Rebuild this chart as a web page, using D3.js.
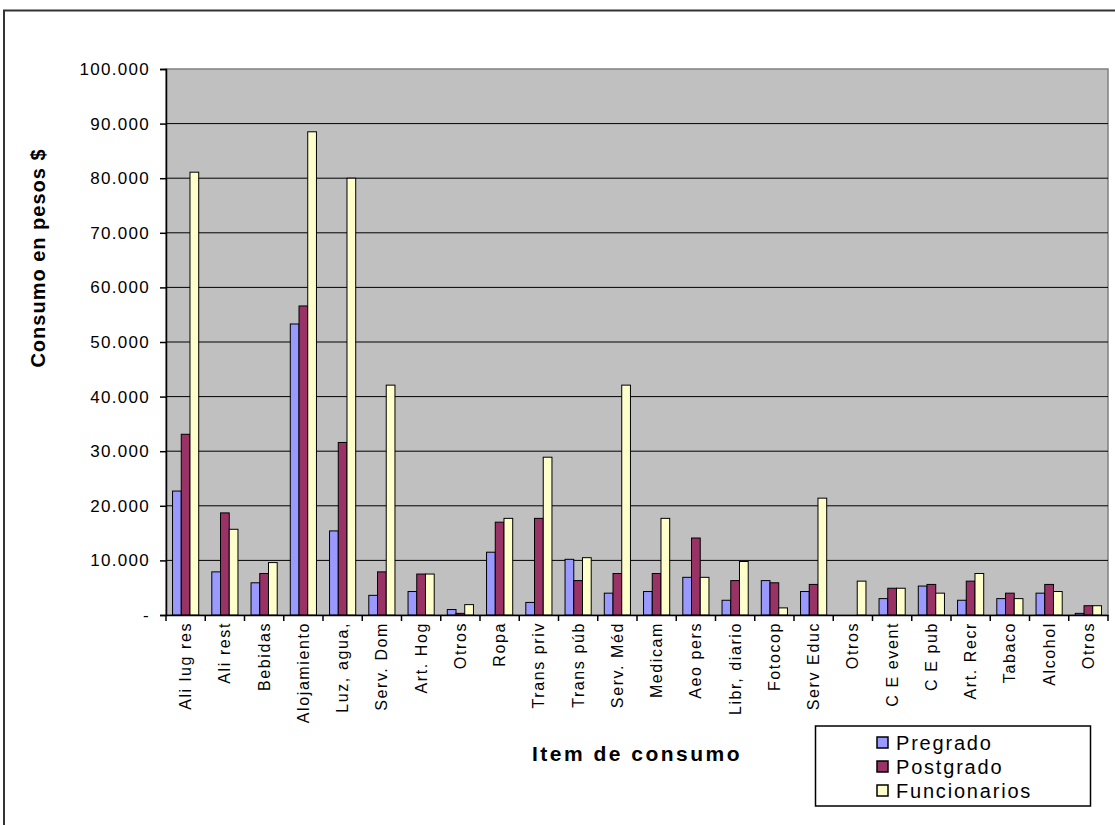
<!DOCTYPE html>
<html>
<head>
<meta charset="utf-8">
<script src="https://cdn.jsdelivr.net/npm/d3@7"></script>
<style>
  body { margin: 0; background: #fff; }
  svg { display: block; font-family: Arial, "Liberation Sans", sans-serif; }
</style>
</head>
<body>
<svg id="chart" width="1115" height="825"></svg>
<script>
const categories = ["Ali lug res", "Ali rest", "Bebidas", "Alojamiento", "Luz, agua,", "Serv. Dom", "Art. Hog", "Otros",
  "Ropa", "Trans priv", "Trans púb", "Serv. Méd", "Medicam", "Aeo pers", "Libr, diario", "Fotocop", "Serv Educ",
  "Otros", "C E event", "C E pub", "Art. Recr", "Tabaco", "Alcohol", "Otros"];
const seriesNames = ["Pregrado", "Postgrado", "Funcionarios"];
const pregrado     = [22700, 7900, 5900, 53300, 15400, 3600, 4300, 1000, 11500, 2300, 10200, 4000, 4300, 6900, 2700, 6300, 4300, 0, 3000, 5300, 2700, 3000, 4000, 300];
const postgrado    = [33100, 18700, 7600, 56600, 31600, 7900, 7500, 300, 17000, 17700, 6300, 7600, 7600, 14100, 6300, 5900, 5600, 0, 4900, 5600, 6200, 4000, 5600, 1700];
const funcionarios = [81100, 15700, 9600, 88500, 80000, 42100, 7500, 1900, 17700, 28900, 10500, 42100, 17700, 6900, 9800, 1300, 21400, 6200, 4900, 4000, 7600, 3000, 4300, 1700];
const yTicks = [0, 10000, 20000, 30000, 40000, 50000, 60000, 70000, 80000, 90000, 100000];
const colors = ["#9999ff", "#993366", "#ffffcc"];

const seriesValues = [pregrado, postgrado, funcionarios];
const svg = d3.select("#chart");

// outer frame
svg.append("rect").attr("x", 4).attr("y", 10.5).attr("width", 1200).attr("height", 1000)
  .attr("fill", "none").attr("stroke", "#333").attr("stroke-width", 2);

const pLeft = 166, pRight = 1108, pTop = 69, pBottom = 615;
const x = d3.scaleBand().domain(d3.range(categories.length)).range([pLeft, pRight]).padding(0);
const y = d3.scaleLinear().domain([0, 100000]).range([pBottom, pTop]);
const w = x.bandwidth() / 4.5;
const x1 = d3.scaleBand().domain(d3.range(3)).range([0, 3 * w]);
const off = (x.bandwidth() - 3 * w) / 2;

// plot background
svg.append("rect").attr("x", pLeft).attr("y", pTop).attr("width", pRight - pLeft).attr("height", pBottom - pTop)
  .attr("fill", "#c0c0c0").attr("stroke", "#808080").attr("stroke-width", 1.5);

// gridlines
svg.append("g").selectAll("line").data(yTicks.filter(d => d > 0 && d < 100000)).join("line")
  .attr("x1", pLeft).attr("x2", pRight).attr("y1", d => y(d)).attr("y2", d => y(d))
  .attr("stroke", "#000").attr("stroke-width", 1);

// bars
const groups = svg.append("g").selectAll("g").data(categories.map((c, i) => i)).join("g")
  .attr("transform", i => `translate(${x(i) + off},0)`);
groups.selectAll("rect").data(i => seriesValues.map((s, k) => ({k, v: s[i]}))).join("rect")
  .attr("x", d => x1(d.k)).attr("width", x1.bandwidth())
  .attr("y", d => y(d.v)).attr("height", d => y(0) - y(d.v))
  .attr("fill", d => colors[d.k]).attr("stroke", "#000").attr("stroke-width", 1)
  .attr("display", d => d.v > 0 ? null : "none");

// y axis
const loc = d3.formatLocale({decimal: ",", thousands: ".", grouping: [3], currency: ["$", ""]});
const fmt = loc.format(",.0f");
const yAxis = svg.append("g").attr("transform", `translate(${pLeft},0)`)
  .call(d3.axisLeft(y).tickValues(yTicks).tickSize(6).tickPadding(10)
    .tickFormat(d => d === 0 ? "-" : fmt(d)));
yAxis.select(".domain").attr("stroke", "#000").attr("stroke-width", 1.5);
yAxis.selectAll(".tick line").attr("stroke", "#000").attr("stroke-width", 1.5);
yAxis.selectAll(".tick text").attr("font-size", 17).attr("fill", "#000")
  .style("letter-spacing", "1.3px").attr("font-family", "Arial, 'Liberation Sans', sans-serif");

// x axis
const xAxis = svg.append("g").attr("transform", `translate(0,${pBottom})`)
  .call(d3.axisBottom(x).tickSize(0).tickFormat(i => categories[i]));
xAxis.select(".domain").attr("stroke", "#000").attr("stroke-width", 1.5);
xAxis.selectAll(".tick text")
  .attr("font-size", 16).attr("fill", "#000").style("letter-spacing", "1.6px")
  .attr("font-family", "Arial, 'Liberation Sans', sans-serif")
  .attr("text-anchor", "end").attr("transform", "rotate(-90)")
  .attr("x", -7).attr("y", 0).attr("dy", "0.35em");
// boundary ticks
svg.append("g").selectAll("line").data(d3.range(categories.length + 1)).join("line")
  .attr("x1", i => pLeft + i * x.bandwidth()).attr("x2", i => pLeft + i * x.bandwidth())
  .attr("y1", pBottom).attr("y2", pBottom + 6).attr("stroke", "#000").attr("stroke-width", 1.5);

// axis titles
svg.append("text").attr("transform", "translate(45,258) rotate(-90)")
  .attr("text-anchor", "middle").attr("font-size", 20).attr("font-weight", "bold")
  .style("letter-spacing", "1px").text("Consumo en pesos $");
svg.append("text").attr("x", 637).attr("y", 761)
  .attr("text-anchor", "middle").attr("font-size", 21).attr("font-weight", "bold")
  .style("letter-spacing", "2.5px").text("Item de consumo");

// legend
const lg = svg.append("g");
lg.append("rect").attr("x", 815.5).attr("y", 726).attr("width", 275).attr("height", 80)
  .attr("fill", "#fff").attr("stroke", "#000").attr("stroke-width", 1.5);
const items = lg.selectAll("g").data(seriesNames).join("g")
  .attr("transform", (d, i) => `translate(877,${737 + i * 24})`);
items.append("rect").attr("width", 11).attr("height", 11)
  .attr("fill", (d, i) => colors[i]).attr("stroke", "#000").attr("stroke-width", 1.5);
items.append("text").attr("x", 19).attr("y", 12.5).attr("font-size", 20)
  .style("letter-spacing", "1.8px").text(d => d);
</script>
</body>
</html>
